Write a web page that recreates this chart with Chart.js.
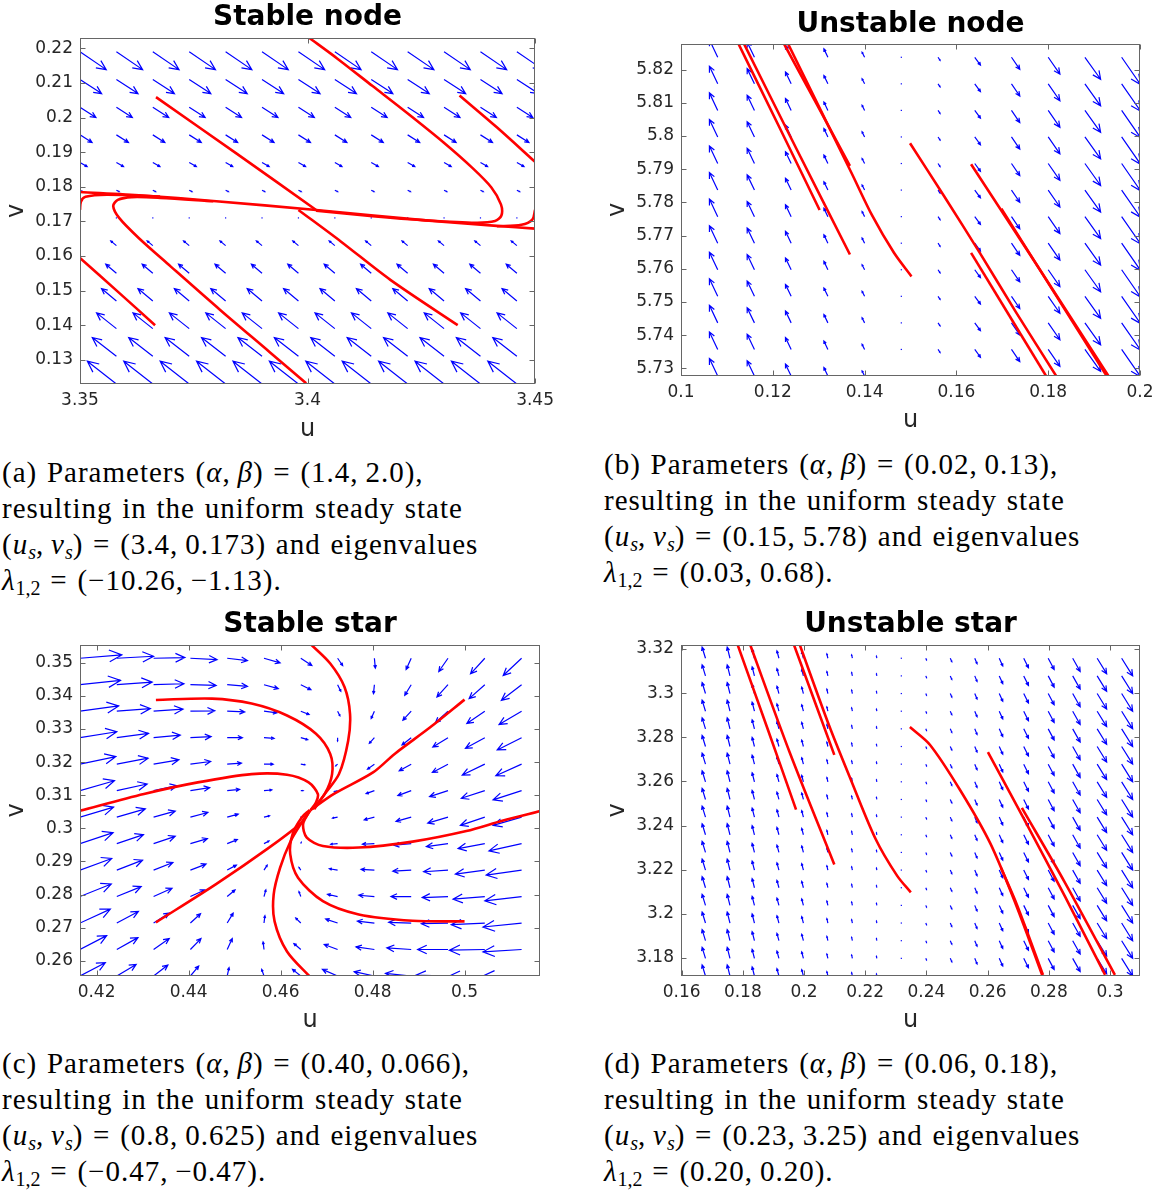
<!DOCTYPE html>
<html>
<head>
<meta charset="utf-8">
<script src="https://cdn.jsdelivr.net/npm/chart.js@4.4.1/dist/chart.umd.min.js"></script>
<style>
  html, body { margin: 0; padding: 0; background: #fff; }
  body { width: 1163px; height: 1191px; position: relative; overflow: hidden; }
  canvas { position: absolute; }
  .cap {
    position: absolute; font-family: 'Liberation Serif', serif; font-size: 29px; line-height: 36px;
    letter-spacing: 1px; word-spacing: 1.5px; color: #000; white-space: nowrap;
  }
  .cap sub { font-size: 20px; line-height: 0; vertical-align: -5px; letter-spacing: 0; }
</style>
</head>
<body>
<canvas id="panelA" width="560" height="445" style="left:0px;top:0px"></canvas>
<canvas id="panelB" width="563" height="445" style="left:600px;top:0px"></canvas>
<canvas id="panelC" width="560" height="445" style="left:0px;top:600px"></canvas>
<canvas id="panelD" width="563" height="445" style="left:600px;top:600px"></canvas>

<div class="cap" style="left:2px;top:454px">(a) Parameters (<i>α</i>,&#8201;<i>β</i>) = (1.4,&#8201;2.0),<br>resulting in the uniform steady state<br>(<i>u<sub>s</sub></i>,&#8201;<i>v<sub>s</sub></i>) = (3.4,&#8201;0.173) and eigenvalues<br><i>λ</i><sub>1,2</sub> = (−10.26,&#8201;−1.13).</div>
<div class="cap" style="left:604px;top:446px">(b) Parameters (<i>α</i>,&#8201;<i>β</i>) = (0.02,&#8201;0.13),<br>resulting in the uniform steady state<br>(<i>u<sub>s</sub></i>,&#8201;<i>v<sub>s</sub></i>) = (0.15,&#8201;5.78) and eigenvalues<br><i>λ</i><sub>1,2</sub> = (0.03,&#8201;0.68).</div>
<div class="cap" style="left:2px;top:1045px">(c) Parameters (<i>α</i>,&#8201;<i>β</i>) = (0.40,&#8201;0.066),<br>resulting in the uniform steady state<br>(<i>u<sub>s</sub></i>,&#8201;<i>v<sub>s</sub></i>) = (0.8,&#8201;0.625) and eigenvalues<br><i>λ</i><sub>1,2</sub> = (−0.47,&#8201;−0.47).</div>
<div class="cap" style="left:604px;top:1045px">(d) Parameters (<i>α</i>,&#8201;<i>β</i>) = (0.06,&#8201;0.18),<br>resulting in the uniform steady state<br>(<i>u<sub>s</sub></i>,&#8201;<i>v<sub>s</sub></i>) = (0.23,&#8201;3.25) and eigenvalues<br><i>λ</i><sub>1,2</sub> = (0.20,&#8201;0.20).</div>

<script>
// arrow components below are stored in units of 1e-4 (data units)
const FIELD_UNIT = 1e-4;

// ---------- (a) Stable node ----------
const xTicksA = [3.35, 3.4, 3.45];
const yTicksA = [0.13, 0.14, 0.15, 0.16, 0.17, 0.18, 0.19, 0.2, 0.21, 0.22];
const gridUA = [3.35, 3.358, 3.366, 3.374, 3.382, 3.39, 3.398, 3.406, 3.414, 3.422, 3.43, 3.438, 3.446];
const gridVA = [0.219, 0.211, 0.203, 0.195, 0.187, 0.179, 0.171, 0.163, 0.155, 0.147, 0.139, 0.131, 0.123];
// field only changes from row to row
const rowDuA = [57.6, 47.5, 35, 26.5, 15.6, 6.2, 1.5, -12.5, -23.4, -32.7, -43.6, -53, -63.9];
const rowDvA = [-51.4, -40.7, -30, -22.3, -11.6, -3.9, -1, 13.6, 26.2, 35.9, 45.6, 54.3, 65.9];
const curvesA = [
  [[3.4002, 0.2232], [3.4065, 0.2171], [3.4143, 0.2091], [3.4221, 0.2011], [3.4299, 0.1928], [3.4361, 0.1856],
   [3.4404, 0.1798], [3.4425, 0.1749], [3.4426, 0.1717], [3.4412, 0.1701], [3.4369, 0.1696], [3.426, 0.1703],
   [3.4143, 0.1715], [3.4019, 0.1731]],
  [[3.35, 0.1785], [3.3637, 0.1775], [3.3793, 0.1759], [3.4019, 0.1733], [3.426, 0.1703], [3.4416, 0.1687], [3.45, 0.1679]],
  [[3.3667, 0.2059], [3.3845, 0.1895], [3.4022, 0.173]],
  [[3.398, 0.1733], [3.4073, 0.1642], [3.4182, 0.1531], [3.433, 0.14]],
  [[3.4334, 0.2064], [3.4416, 0.1972], [3.45, 0.1872]],
  [[3.35, 0.1594], [3.3583, 0.1497], [3.3665, 0.14]],
  [[3.3997, 0.1232], [3.3917, 0.1322], [3.3808, 0.1444], [3.3699, 0.157], [3.3629, 0.1652], [3.3586, 0.171],
   [3.3573, 0.1744], [3.3583, 0.1762], [3.3614, 0.177], [3.3676, 0.1768], [3.3793, 0.1758]],
  [[3.35, 0.1733], [3.3502, 0.1757], [3.3512, 0.1771], [3.3559, 0.1777], [3.3676, 0.1772]],
  [[3.45, 0.1733], [3.4494, 0.1705], [3.447, 0.169], [3.4416, 0.1686]],
];

// ---------- (b) Unstable node ----------
const xTicksB = [0.1, 0.12, 0.14, 0.16, 0.18, 0.2];
const yTicksB = [5.73, 5.74, 5.75, 5.76, 5.77, 5.78, 5.79, 5.8, 5.81, 5.82];
const gridUB = [0.1, 0.108, 0.116, 0.124, 0.132, 0.14, 0.148, 0.156, 0.164, 0.172, 0.18, 0.188, 0.196];
const gridVB = [5.7277, 5.7357, 5.7437, 5.7517, 5.7597, 5.7677, 5.7757, 5.7837, 5.7917, 5.7997, 5.8077, 5.8157, 5.8237];
// field only changes from column to column
const colDuB = [-20.7, -18.1, -15.9, -12.4, -8.7, -5.5, 0.4, 4.4, 12.4, 18.1, 25.5, 34.2, 41.4];
const colDvB = [59.5, 52.8, 45.8, 35.7, 25.3, 15.3, -1.5, -9.2, -23.5, -36.6, -50.9, -66.2, -82.4];
const curvesB = [
  [[0.1124, 5.8281], [0.1213, 5.803], [0.1302, 5.7777]],
  [[0.1136, 5.8281], [0.1252, 5.796], [0.1368, 5.7643]],
  [[0.1223, 5.8281], [0.1296, 5.8095], [0.1368, 5.791]],
  [[0.1232, 5.8281], [0.1371, 5.789], [0.1417, 5.7759], [0.1464, 5.7648], [0.1502, 5.7577]],
  [[0.1499, 5.7978], [0.1573, 5.7819], [0.1651, 5.7648], [0.1729, 5.7471], [0.1817, 5.7278]],
  [[0.1632, 5.7648], [0.1795, 5.7278]],
  [[0.1632, 5.7915], [0.1782, 5.7597], [0.1931, 5.7278]],
  [[0.1698, 5.7781], [0.1927, 5.7278]],
];

// ---------- (c) Stable star ----------
const xTicksC = [0.42, 0.44, 0.46, 0.48, 0.5];
const yTicksC = [0.26, 0.27, 0.28, 0.29, 0.3, 0.31, 0.32, 0.33, 0.34, 0.35];
const gridUC = [0.4164, 0.4244, 0.4324, 0.4404, 0.4484, 0.4564, 0.4644, 0.4724, 0.4804, 0.4884, 0.4964, 0.5044, 0.5124];
const gridVC = [0.3514, 0.3434, 0.3354, 0.3274, 0.3194, 0.3114, 0.3034, 0.2954, 0.2874, 0.2794, 0.2714, 0.2634, 0.2554];
// one row per grid row, top row first
const duC = [
  [91, 80, 68, 58, 44, 35, 24, 11, 2, -11, -20, -31, -40],
  [88, 77, 66, 56, 44, 31, 22, 7, -2, -14, -24, -34, -44],
  [84, 73, 64, 53, 38, 28, 18, 5, -7, -18, -27, -39, -49],
  [80, 69, 58, 45, 33, 22, 15, 0, -11, -20, -33, -42, -53],
  [78, 68, 55, 44, 31, 20, 9, -4, -15, -26, -34, -49, -56],
  [75, 66, 51, 42, 27, 17, 5, -7, -18, -29, -40, -51, -62],
  [73, 62, 47, 38, 24, 12, 2, -11, -22, -33, -44, -53, -62],
  [72, 58, 47, 37, 22, 11, 1, -15, -26, -37, -47, -58, -71],
  [69, 56, 42, 34, 20, 7, -4, -18, -29, -40, -53, -64, -77],
  [68, 53, 40, 31, 17, 4, -4, -22, -34, -44, -56, -69, -80],
  [66, 47, 34, 22, 13, 2, -11, -26, -37, -49, -58, -73, -84],
  [58, 46, 34, 23, 11, -2, -15, -29, -40, -53, -66, -77, -84],
  [55, 42, 31, 18, 4, -5, -18, -33, -44, -56, -69, -77, -84],
];
const dvC = [
  [10, 6, 2, -4, -7, -14, -22, -22, -30, -34, -40, -47, -52],
  [13, 8, 3, -2, -5, -12, -15, -20, -27, -32, -37, -42, -47],
  [16, 8, 6, 1, -2, -5, -10, -14, -22, -27, -34, -37, -40],
  [18, 13, 8, 3, 0, -2, -6, -10, -17, -22, -28, -32, -37],
  [23, 18, 13, 8, 3, 0, -2, -5, -15, -20, -25, -33, -35],
  [30, 20, 15, 9, 4, 2, 0, -3, -9, -15, -18, -23, -28],
  [30, 25, 18, 14, 9, 4, 1, -3, -8, -13, -18, -25, -25],
  [33, 27, 22, 15, 12, 8, 4, -2, -2, -5, -9, -15, -22],
  [35, 30, 23, 18, 15, 15, 8, 4, 2, -3, -5, -12, -15],
  [38, 30, 25, 20, 20, 20, 15, 7, 4, 0, -3, -8, -13],
  [42, 35, 30, 28, 30, 22, 15, 12, 6, 2, -2, -5, -12],
  [42, 36, 33, 33, 33, 23, 18, 15, 8, 5, 0, -2, -7],
  [40, 35, 33, 30, 25, 20, 20, 20, 13, 8, 3, 0, 0],
];
const curvesC = [
  [[0.4665, 0.3557], [0.4708, 0.3498], [0.4739, 0.3427], [0.4751, 0.3346], [0.4747, 0.3265], [0.4727, 0.3164],
   [0.4696, 0.3104], [0.4673, 0.3058]],
  [[0.4329, 0.3388], [0.4451, 0.3392], [0.4537, 0.3377], [0.4614, 0.3341], [0.4677, 0.3286], [0.4708, 0.3225],
   [0.4712, 0.3164], [0.4696, 0.3104], [0.4669, 0.3058]],
  [[0.4163, 0.3053], [0.4303, 0.3104], [0.442, 0.3139], [0.4537, 0.3164], [0.4614, 0.3162], [0.4661, 0.3139],
   [0.4681, 0.3104], [0.4677, 0.3078], [0.4665, 0.3055]],
  [[0.4329, 0.2716], [0.4459, 0.2831], [0.4575, 0.2942], [0.4646, 0.3018], [0.4665, 0.3055]],
  [[0.5, 0.3389], [0.4926, 0.3306], [0.4848, 0.3225], [0.4801, 0.3169], [0.4716, 0.3104], [0.4665, 0.3055]],
  [[0.5166, 0.3053], [0.5082, 0.3023], [0.5004, 0.2992], [0.4887, 0.296], [0.477, 0.2942], [0.4692, 0.2947],
   [0.4657, 0.2972], [0.4649, 0.3013], [0.4663, 0.3053]],
  [[0.5, 0.2719], [0.4887, 0.2721], [0.477, 0.274], [0.4692, 0.278], [0.4638, 0.2851], [0.4621, 0.2922],
   [0.4626, 0.2982], [0.4646, 0.3033], [0.4663, 0.3055]],
  [[0.4665, 0.255], [0.4614, 0.2628], [0.4587, 0.2719], [0.4585, 0.28], [0.4599, 0.2881], [0.4622, 0.2962],
   [0.4646, 0.3018], [0.4663, 0.3055]],
];

// ---------- (d) Unstable star ----------
const xTicksD = [0.16, 0.18, 0.2, 0.22, 0.24, 0.26, 0.28, 0.3];
const yTicksD = [3.18, 3.2, 3.22, 3.24, 3.26, 3.28, 3.3, 3.32];
const gridUD = [0.1598, 0.1678, 0.1758, 0.1838, 0.1918, 0.1998, 0.2078, 0.2158, 0.2238, 0.2318,
                0.2398, 0.2478, 0.2558, 0.2638, 0.2718, 0.2798, 0.2878, 0.2958, 0.3038];
const gridVD = [3.1718, 3.1798, 3.1878, 3.1958, 3.2038, 3.2118, 3.2198, 3.2278, 3.2358, 3.2438,
                3.2518, 3.2598, 3.2678, 3.2758, 3.2838, 3.2918, 3.2998, 3.3078, 3.3158];
const colDuD = [-11, -11, -9, -7.5, -6.5, -5.5, -3.3, -2.3, -1.3, 0, 2.3, 5, 7.5, 11.5, 15.5, 19.5, 24.5, 31, 36];
const colDvD = [55, 50, 50, 41, 33, 29, 19.5, 15, 9, 2.3, -7.7, -16, -25, -35, -43, -51, -60, -70, -80];
const curvesD = [
  [[0.1781, 3.3227], [0.1878, 3.285], [0.1974, 3.2472]],
  [[0.1822, 3.3227], [0.1953, 3.2732], [0.2099, 3.2223]],
  [[0.1965, 3.3227], [0.2099, 3.272]],
  [[0.1984, 3.3227], [0.2082, 3.2853], [0.2152, 3.2611], [0.2234, 3.2339], [0.2304, 3.2173], [0.2349, 3.2097]],
  [[0.2346, 3.2846], [0.2412, 3.2765], [0.251, 3.2561], [0.2608, 3.2321], [0.2693, 3.204], [0.2778, 3.1723]],
  [[0.2644, 3.2207], [0.2696, 3.204], [0.2781, 3.1723]],
  [[0.2601, 3.2733], [0.2713, 3.2445], [0.2854, 3.2075], [0.2984, 3.1723]],
  [[0.2712, 3.248], [0.2854, 3.2138], [0.3016, 3.1723]],
];

// ---------- drawing helpers ----------
const BLUE = '#0000ff';
const RED = '#ff0000';
const AXIS_GREY = '#262626';

// quiver arrows, drawn in pixel space from the data through the chart scales
function quiverPlugin(arrows) {
  return {
    id: 'quiver',
    beforeDatasetsDraw(chart) {
      const { ctx, chartArea: a, scales: { x, y } } = chart;
      ctx.save();
      ctx.beginPath();
      ctx.rect(a.left, a.top, a.right - a.left, a.bottom - a.top);
      ctx.clip();
      ctx.strokeStyle = BLUE;
      ctx.fillStyle = BLUE;
      ctx.lineWidth = 1.2;
      arrows.forEach(([u, v, du, dv]) => {
        const x0 = x.getPixelForValue(u), y0 = y.getPixelForValue(v);
        const x1 = x.getPixelForValue(u + du * FIELD_UNIT), y1 = y.getPixelForValue(v + dv * FIELD_UNIT);
        const dx = x1 - x0, dy = y1 - y0, len = Math.hypot(dx, dy);
        if (len < 1.2) {
          ctx.fillRect(x0 - 0.6, y0 - 0.6, 1.2, 1.2);
          return;
        }
        const ux = dx / len, uy = dy / len;
        const hl = 0.3 * len, hw = 0.14 * len;
        ctx.beginPath();
        ctx.moveTo(x0, y0);
        ctx.lineTo(x1, y1);
        ctx.moveTo(x1 - hl * ux + hw * uy, y1 - hl * uy - hw * ux);
        ctx.lineTo(x1, y1);
        ctx.lineTo(x1 - hl * ux - hw * uy, y1 - hl * uy + hw * ux);
        ctx.stroke();
      });
      ctx.restore();
    },
  };
}

// MATLAB-like box with ticks pointing inwards on all four sides
const boxPlugin = {
  id: 'matlabBox',
  afterDatasetsDraw(chart) {
    const { ctx, chartArea: a, scales: { x, y } } = chart;
    const L = Math.round(a.left) + 0.5, R = Math.round(a.right) - 0.5;
    const T = Math.round(a.top) + 0.5, B = Math.round(a.bottom) - 0.5;
    const tl = 5;
    ctx.save();
    ctx.strokeStyle = '#666666';
    ctx.lineWidth = 1;
    ctx.strokeRect(L, T, R - L, B - T);
    ctx.beginPath();
    x.ticks.forEach((t) => {
      const px = Math.round(x.getPixelForValue(t.value)) + 0.5;
      ctx.moveTo(px, B); ctx.lineTo(px, B - tl);
      ctx.moveTo(px, T); ctx.lineTo(px, T + tl);
    });
    y.ticks.forEach((t) => {
      const py = Math.round(y.getPixelForValue(t.value)) + 0.5;
      ctx.moveTo(L, py); ctx.lineTo(L + tl, py);
      ctx.moveTo(R, py); ctx.lineTo(R - tl, py);
    });
    ctx.stroke();
    ctx.restore();
  },
};

function makePanel(id, cfg) {
  const ctx = document.getElementById(id);
  const tickFont = { family: 'DejaVu Sans', size: 17 };
  const labelFont = { family: 'DejaVu Sans', size: 24, lineHeight: 1.2 };
  return new Chart(ctx, {
    type: 'scatter',
    data: {
      datasets: cfg.curves.map((c) => ({
        data: c.map(([u, v]) => ({ x: u, y: v })),
        showLine: true,
        borderColor: RED,
        borderWidth: 2.6,
        pointRadius: 0,
        tension: 0.3,
        fill: false,
        clip: 0,
      })),
    },
    options: {
      responsive: false,
      animation: false,
      devicePixelRatio: 1,
      events: [],
      layout: { padding: { left: 0, right: cfg.padRight, top: 0, bottom: 0 } },
      plugins: {
        legend: { display: false },
        tooltip: { enabled: false },
        title: {
          display: true,
          fullSize: false,
          text: cfg.title,
          color: '#000',
          font: { family: 'DejaVu Sans', size: 28, weight: 'bold', lineHeight: 1.1 },
          padding: { top: cfg.titleTop, bottom: cfg.titleBottom },
        },
      },
      scales: {
        x: {
          type: 'linear',
          min: cfg.xRange[0],
          max: cfg.xRange[1],
          afterFit: (s) => { s.height = cfg.xAxisH; },
          afterBuildTicks: (s) => { s.ticks = cfg.xTicks.map((value) => ({ value })); },
          ticks: { callback: (v) => String(v), font: tickFont, color: AXIS_GREY, padding: 6, maxRotation: 0, autoSkip: false },
          grid: { display: false, drawTicks: false, tickLength: 0 },
          border: { display: false },
          title: { display: true, text: 'u', color: AXIS_GREY, font: labelFont, padding: { top: 0, bottom: cfg.uPad } },
        },
        y: {
          type: 'linear',
          min: cfg.yRange[0],
          max: cfg.yRange[1],
          afterFit: (s) => { s.width = cfg.yAxisW; },
          afterBuildTicks: (s) => { s.ticks = cfg.yTicks.map((value) => ({ value })); },
          ticks: { callback: (v) => String(v), font: tickFont, color: AXIS_GREY, padding: 7, autoSkip: false },
          grid: { display: false, drawTicks: false, tickLength: 0 },
          border: { display: false },
          title: { display: true, text: 'v', color: AXIS_GREY, font: labelFont, padding: { top: cfg.vPad, bottom: 0 } },
        },
      },
    },
    plugins: [quiverPlugin(cfg.arrows), boxPlugin],
  });
}

// build arrow tables [u, v, du, dv]
const arrowsA = [];
gridVA.forEach((v, r) => gridUA.forEach((u) => arrowsA.push([u, v, rowDuA[r], rowDvA[r]])));
const arrowsB = [];
gridVB.forEach((v) => gridUB.forEach((u, c) => arrowsB.push([u, v, colDuB[c], colDvB[c]])));
const arrowsC = [];
gridVC.forEach((v, r) => gridUC.forEach((u, c) => arrowsC.push([u, v, duC[r][c], dvC[r][c]])));
const arrowsD = [];
gridVD.forEach((v) => gridUD.forEach((u, c) => arrowsD.push([u, v, colDuD[c], colDvD[c]])));

makePanel('panelA', {
  title: 'Stable node', curves: curvesA, arrows: arrowsA,
  xRange: [3.35, 3.45], yRange: [0.123, 0.223], xTicks: xTicksA, yTicks: yTicksA,
  padRight: 20, yAxisW: 80, xAxisH: 61, titleTop: 2, titleBottom: 5.2, uPad: 0.4, vPad: 2,
});
makePanel('panelB', {
  title: 'Unstable node', curves: curvesB, arrows: arrowsB,
  xRange: [0.1, 0.2], yRange: [5.7277, 5.8277], xTicks: xTicksB, yTicks: yTicksB,
  padRight: 23, yAxisW: 81, xAxisH: 69, titleTop: 9.6, titleBottom: 3.6, uPad: 9.4, vPad: 3.8,
});
makePanel('panelC', {
  title: 'Stable star', curves: curvesC, arrows: arrowsC,
  xRange: [0.4164, 0.5164], yRange: [0.2554, 0.3554], xTicks: xTicksC, yTicks: yTicksC,
  padRight: 20, yAxisW: 80, xAxisH: 69, titleTop: 9.6, titleBottom: 4.6, uPad: 9.4, vPad: 2,
});
makePanel('panelD', {
  title: 'Unstable star', curves: curvesD, arrows: arrowsD,
  xRange: [0.1598, 0.3098], yRange: [3.1718, 3.3218], xTicks: xTicksD, yTicks: yTicksD,
  padRight: 23, yAxisW: 81, xAxisH: 69, titleTop: 9.6, titleBottom: 4.6, uPad: 9.4, vPad: 3.8,
});
</script>
</body>
</html>
